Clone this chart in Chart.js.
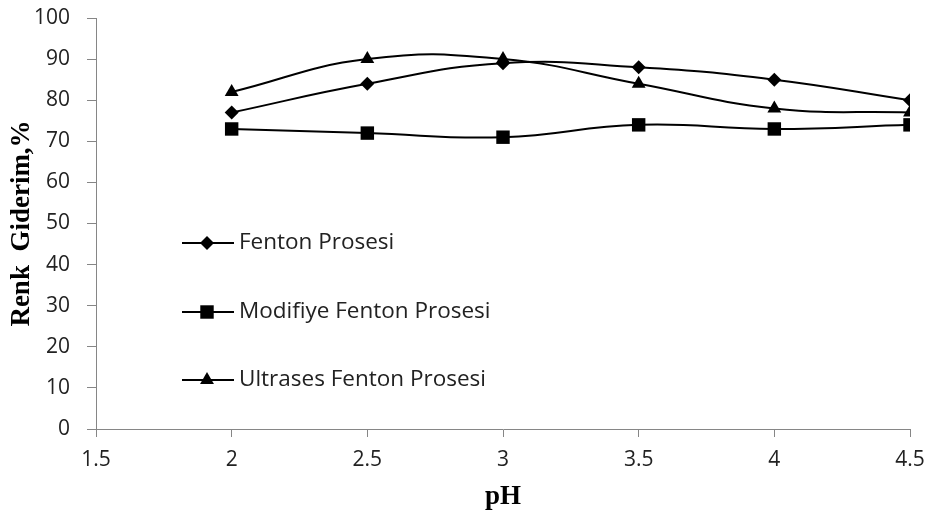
<!DOCTYPE html>
<html>
<head>
<meta charset="utf-8">
<script src="https://cdn.jsdelivr.net/npm/chart.js@4/dist/chart.umd.min.js"></script>
<style>
  html, body { margin: 0; padding: 0; background: #fff; }
  #wrap { width: 930px; height: 513px; position: relative; }
</style>
</head>
<body>
<div id="wrap"><canvas id="c" width="930" height="513"></canvas></div>
<script>
// pH values tested and colour removal (%) for each process
const phValues = [2, 2.5, 3, 3.5, 4, 4.5];
const fenton = [77, 84, 89, 88, 85, 80];
const modifiyeFenton = [73, 72, 71, 74, 73, 74];
const ultrasesFenton = [82, 90, 90, 84, 78, 77];
const seriesNames = ['Fenton Prosesi', 'Modifiye Fenton Prosesi', 'Ultrases Fenton Prosesi'];
const xTicks = [1.5, 2, 2.5, 3, 3.5, 4, 4.5];
const yTicks = [0, 10, 20, 30, 40, 50, 60, 70, 80, 90, 100];

const markerStyles = [
  { pointStyle: 'rectRot', radius: 7 },
  { pointStyle: 'rect', radius: 9.5 },
  { pointStyle: 'triangle', radius: 8 }
];

function toPoints(vals) {
  return phValues.map((x, i) => ({ x: x, y: vals[i] }));
}

const seriesValues = [fenton, modifiyeFenton, ultrasesFenton];
const datasets = seriesValues.map((vals, i) => ({
  label: seriesNames[i],
  data: toPoints(vals),
  borderColor: '#000',
  backgroundColor: '#000',
  borderWidth: 2,
  tension: 0.45,
  pointStyle: markerStyles[i].pointStyle,
  pointRadius: markerStyles[i].radius,
  pointHoverRadius: markerStyles[i].radius,
  pointBorderWidth: 0,
  pointBackgroundColor: '#000'
}));

// legend drawn inside the plot: short line with marker, then the name
const insideLegend = {
  id: 'insideLegend',
  afterDatasetsDraw(chart) {
    const ctx = chart.ctx;
    const rows = [243, 312, 380];
    ctx.save();
    rows.forEach((y, i) => {
      ctx.strokeStyle = '#000';
      ctx.lineWidth = 2;
      ctx.beginPath();
      ctx.moveTo(182, y);
      ctx.lineTo(234, y);
      ctx.stroke();
      ctx.fillStyle = '#000';
      Chart.helpers.drawPoint(ctx, {
        pointStyle: markerStyles[i].pointStyle,
        rotation: 0,
        borderWidth: 0,
        radius: markerStyles[i].radius
      }, 207, y);
      ctx.fillStyle = '#222';
      ctx.font = '22.5px "Open Sans", "Liberation Sans", sans-serif';
      ctx.textAlign = 'left';
      ctx.textBaseline = 'middle';
      ctx.fillText(seriesNames[i], 239, y);
    });
    ctx.restore();
  }
};

const axisColor = '#868686';
const tickFont = { family: '"Open Sans", "Liberation Sans", sans-serif', size: 21 };

new Chart(document.getElementById('c'), {
  type: 'line',
  data: { datasets: datasets },
  options: {
    responsive: false,
    animation: false,
    devicePixelRatio: 1,
    layout: { padding: { top: 18, right: 20, left: 0, bottom: 0 } },
    plugins: {
      legend: { display: false },
      tooltip: { enabled: false }
    },
    scales: {
      x: {
        type: 'linear',
        min: 1.5,
        max: 4.5,
        afterBuildTicks(scale) { scale.ticks = xTicks.map(v => ({ value: v })); },
        afterFit(scale) { scale.height = 84; scale.paddingLeft = 0; scale.paddingRight = 0; },
        grid: { drawOnChartArea: false, drawTicks: true, tickLength: 8, color: axisColor },
        border: { color: axisColor, width: 1 },
        ticks: {
          color: '#222', font: tickFont, padding: 10, maxRotation: 0,
          callback: v => String(v)
        },
        title: {
          display: true,
          text: 'pH',
          color: '#000',
          font: { family: '"Liberation Serif", "Times New Roman", serif', size: 27, weight: 'bold' },
          padding: { top: 0, bottom: 0 }
        }
      },
      y: {
        min: 0,
        max: 100,
        afterBuildTicks(scale) { scale.ticks = yTicks.map(v => ({ value: v })); },
        afterFit(scale) { scale.width = 96; scale.paddingTop = 0; scale.paddingBottom = 0; },
        grid: { drawOnChartArea: false, drawTicks: true, tickLength: 9, color: axisColor },
        border: { color: axisColor, width: 1 },
        ticks: { color: '#222', font: tickFont, padding: 17, callback: v => String(v) },
        title: {
          display: true,
          text: 'Renk  Giderim,%',
          color: '#000',
          font: { family: '"Liberation Serif", "Times New Roman", serif', size: 27, weight: 'bold' },
          padding: { top: 6, bottom: 0 }
        }
      }
    }
  },
  plugins: [insideLegend]
});
</script>
</body>
</html>
